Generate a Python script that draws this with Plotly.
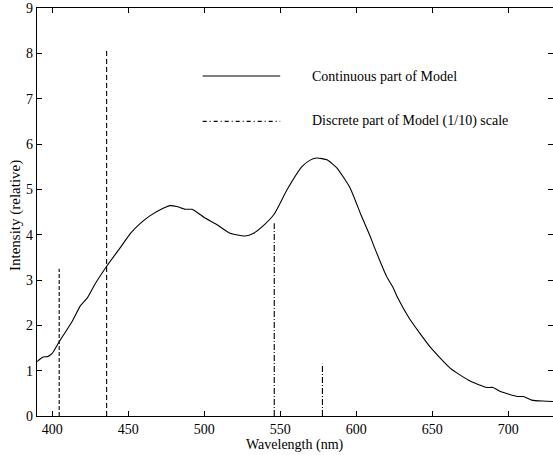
import plotly.graph_objects as go

# Continuous part of the model
wavelength = [390, 394, 397, 400, 405, 413, 418.5, 423, 428.5, 436, 446, 451.5, 458, 464.5,
              473, 477.5, 482, 487.5, 492, 497.5, 500, 508.5, 517, 527, 532.5, 538, 546,
              554.5, 564.3, 570, 574.2, 580.8, 587.4, 596, 603, 609, 612, 620, 624.5, 627,
              635, 648.5, 662, 675, 686, 690, 695, 706, 710, 715.5, 723, 730]
intensity = [1.20, 1.30, 1.31, 1.38, 1.66, 2.08, 2.43, 2.60, 2.93, 3.31, 3.77, 4.03, 4.25, 4.42,
             4.58, 4.64, 4.62, 4.56, 4.56, 4.44, 4.38, 4.22, 4.03, 3.97, 4.03, 4.17, 4.45,
             4.99, 5.50, 5.65, 5.69, 5.65, 5.47, 5.03, 4.45, 3.98, 3.72, 3.08, 2.82, 2.63,
             2.15, 1.53, 1.05, 0.77, 0.63, 0.63, 0.54, 0.43, 0.43, 0.35, 0.33, 0.32]

# Discrete part of the model (1/10 scale)
line_wavelengths = [404.6, 435.8, 546.1, 577.8]
line_heights = [3.25, 8.05, 4.25, 1.15]
line_dashes = ["4px,2px", "5px,3px", "6px,2px,1px,2px", "6px,2px,1px,2px"]

# Axis ticks
x_ticks = [400, 450, 500, 550, 600, 650, 700]
y_ticks = [0, 1, 2, 3, 4, 5, 6, 7, 8, 9]

legend_labels = ["Continuous part of Model", "Discrete part of Model (1/10) scale"]
x_title = "Wavelength (nm)"
y_title = "Intensity (relative)"

FONT = "Liberation Serif"

fig = go.Figure()
fig.add_trace(go.Scatter(x=wavelength, y=intensity, mode="lines",
                         line=dict(color="black", width=1.1, shape="spline", smoothing=0.5),
                         showlegend=False, hoverinfo="skip"))
for wl, h, d in zip(line_wavelengths, line_heights, line_dashes):
    fig.add_trace(go.Scatter(x=[wl, wl], y=[0, h], mode="lines",
                             line=dict(color="black", width=1.1, dash=d),
                             showlegend=False, hoverinfo="skip"))

# Manual legend (drawn inside the axes, in data coordinates)
fig.add_trace(go.Scatter(x=[499, 550], y=[7.5, 7.5], mode="lines",
                         line=dict(color="black", width=1.1), showlegend=False, hoverinfo="skip"))
fig.add_trace(go.Scatter(x=[499, 550], y=[6.5, 6.5], mode="lines",
                         line=dict(color="black", width=1.1, dash="4px,3px,1px,3px"),
                         showlegend=False, hoverinfo="skip"))
for yy, lab in zip([7.5, 6.5], legend_labels):
    fig.add_annotation(x=569.5, y=yy, xref="x", yref="y", text=lab, showarrow=False,
                       xanchor="left", yanchor="middle",
                       font=dict(family=FONT, size=14, color="black"))

# Axis titles
fig.add_annotation(x=0.5, y=0, xref="paper", yref="paper", text=x_title, showarrow=False,
                   xanchor="center", yanchor="middle", yshift=-29,
                   font=dict(family=FONT, size=14, color="black"))
fig.add_annotation(x=0, y=0.5, xref="paper", yref="paper", text=y_title, showarrow=False,
                   textangle=-90, xanchor="center", yanchor="middle", xshift=-22, yshift=-4,
                   font=dict(family=FONT, size=15, color="black"))

axis_common = dict(showgrid=False, zeroline=False, showline=True, linecolor="black",
                   linewidth=1.2, mirror="ticks", ticks="inside", ticklen=5,
                   tickcolor="black", tickfont=dict(family=FONT, size=14, color="black"))

fig.update_xaxes(range=[390, 729.5], tickvals=x_ticks, **axis_common)
fig.update_yaxes(range=[0, 9], tickvals=y_ticks, **axis_common)

fig.update_layout(width=553, height=455, margin=dict(l=37, r=0, t=8, b=39),
                  plot_bgcolor="white", paper_bgcolor="white",
                  font=dict(family=FONT, size=14, color="black"))

fig.write_html("out.html", config={"displayModeBar": False},
               post_script="document.body.style.margin='0';")
